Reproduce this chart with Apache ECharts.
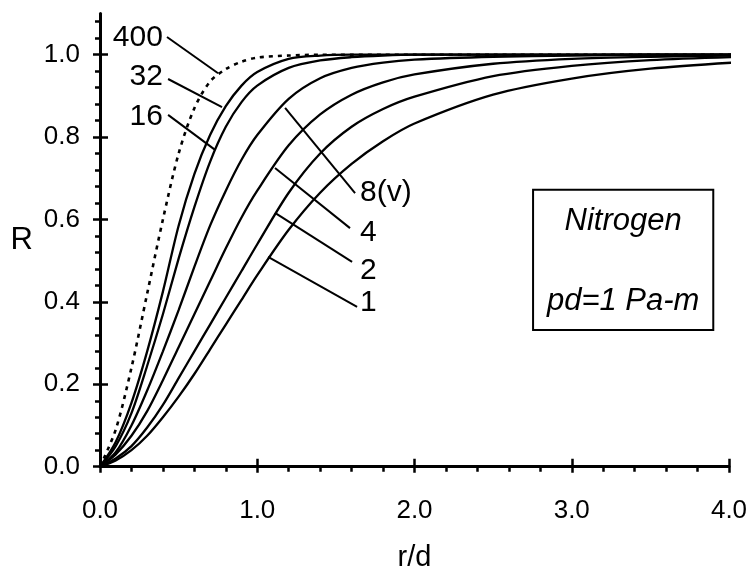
<!DOCTYPE html>
<html lang="en">
<head>
<meta charset="UTF-8">
<title>R vs r/d</title>
<script src="https://cdn.jsdelivr.net/npm/echarts@6/dist/echarts.min.js"></script>
<style>
  html, body { margin: 0; padding: 0; background: #fff; }
  #chart { width: 749px; height: 568px; }
</style>
</head>
<body>
<div id="chart"></div>
<script>
// r/d sample points
var rd = [0, 0.1, 0.2, 0.3, 0.4, 0.5, 0.6, 0.7, 0.8, 0.9, 1.0, 1.2, 1.4, 1.6, 1.8, 2.0, 2.5, 3.0, 3.5, 4.08];

// R
var r400 = [0, 0.09, 0.24, 0.42, 0.60, 0.76, 0.87, 0.935, 0.965, 0.983, 0.993, 0.998, 1.0, 1.0, 1.0, 1.0, 1.0, 1.0, 1.0, 1.0];
var r32 = [0, 0.06, 0.155, 0.28, 0.425, 0.585, 0.71, 0.805, 0.875, 0.925, 0.958, 0.99, 0.998, 1.0, 1.0, 1.0, 1.0, 1.0, 1.0, 1.0];
var r16 = [0, 0.05, 0.13, 0.245, 0.37, 0.505, 0.63, 0.74, 0.825, 0.885, 0.925, 0.968, 0.986, 0.994, 0.998, 1.0, 1.0, 1.0, 1.0, 1.0];
var r8 = [0, 0.035, 0.1, 0.185, 0.28, 0.38, 0.485, 0.585, 0.67, 0.745, 0.805, 0.893, 0.943, 0.968, 0.981, 0.988, 0.995, 0.998, 1.0, 1.0];
var r4 = [0, 0.03, 0.075, 0.135, 0.21, 0.29, 0.37, 0.45, 0.53, 0.605, 0.67, 0.78, 0.855, 0.903, 0.933, 0.952, 0.978, 0.99, 0.995, 0.998];
var r2 = [0, 0.02, 0.05, 0.095, 0.15, 0.215, 0.28, 0.345, 0.41, 0.475, 0.54, 0.665, 0.76, 0.825, 0.868, 0.898, 0.948, 0.973, 0.987, 0.995];
var r1 = [0, 0.015, 0.04, 0.075, 0.12, 0.17, 0.225, 0.285, 0.345, 0.405, 0.465, 0.575, 0.665, 0.735, 0.79, 0.833, 0.903, 0.942, 0.966, 0.982];

var curveNames = ['400', '32', '16', '8(v)', '4', '2', '1'];
var curveValues = [r400, r32, r16, r8, r4, r2, r1];

// ticks
var yMajor = [0, 0.2, 0.4, 0.6, 0.8, 1.0];
var yMinor = [0.04, 0.08, 0.12, 0.16, 0.24, 0.28, 0.32, 0.36, 0.44, 0.48, 0.52, 0.56,
  0.64, 0.68, 0.72, 0.76, 0.84, 0.88, 0.92, 0.96, 1.04, 1.08];

// leader lines: [label, from, to, label anchor, align]  (data coords)
var notes = [
  ['400', [0.426, 1.043], [0.751, 0.955], [0.40, 1.042], 'right'],
  ['32', [0.433, 0.941], [0.776, 0.873], [0.40, 0.946], 'right'],
  ['16', [0.433, 0.854], [0.732, 0.769], [0.40, 0.849], 'right'],
  ['8(v)', [1.177, 0.871], [1.622, 0.664], [1.654, 0.664], 'left'],
  ['4', [1.113, 0.725], [1.59, 0.579], [1.654, 0.567], 'left'],
  ['2', [1.113, 0.616], [1.603, 0.497], [1.654, 0.475], 'left'],
  ['1', [1.069, 0.509], [1.635, 0.388], [1.654, 0.397], 'left']
];

var font = 'Liberation Sans, Arial, sans-serif';
var chart = echarts.init(document.getElementById('chart'));

function fmt(v) { return v.toFixed(1); }

var series = curveNames.map(function (name, i) {
  return {
    name: name,
    type: 'line',
    data: rd.map(function (x, j) { return [x, curveValues[i][j]]; }),
    showSymbol: false,
    smooth: 0.3,
    clip: false,
    lineStyle: {
      color: '#000',
      width: i === 0 ? 2.6 : 2.3,
      type: i === 0 ? [4, 5] : 'solid'
    }
  };
});

var option = {
  animation: false,
  backgroundColor: '#fff',
  grid: { left: 100, right: 20, top: 13.5, bottom: 101.3, outerBoundsMode: 'none', containLabel: false },
  xAxis: [
    {
      type: 'value', min: 0, max: 4, interval: 1,
      name: 'r/d', nameLocation: 'middle', nameGap: 77,
      nameTextStyle: { fontFamily: font, fontSize: 29, color: '#000' },
      axisLine: { lineStyle: { color: '#000', width: 3 } },
      axisTick: { length: 6, lineStyle: { color: '#000', width: 2.5 } },
      minorTick: { show: true, splitNumber: 5, length: 5, lineStyle: { color: '#000', width: 2.5 } },
      axisLabel: { formatter: fmt, margin: 31, fontFamily: font, fontSize: 26, color: '#000' },
      splitLine: { show: false }
    },
    {
      type: 'value', min: 0, max: 4, interval: 1, position: 'bottom',
      axisLine: { show: false },
      axisTick: { inside: true, length: 8, lineStyle: { color: '#000', width: 2.5 } },
      axisLabel: { show: false },
      splitLine: { show: false }
    }
  ],
  yAxis: [
    {
      type: 'value', min: 0, max: 1.1,
      name: 'R', nameLocation: 'middle', nameRotate: 0, nameGap: 67,
      nameTextStyle: { fontFamily: font, fontSize: 31, color: '#000' },
      axisLine: { lineStyle: { color: '#000', width: 3 } },
      axisTick: { customValues: yMajor, length: 7, lineStyle: { color: '#000', width: 2.5 } },
      axisLabel: { customValues: yMajor, formatter: fmt, margin: 20, fontFamily: font, fontSize: 26, color: '#000' },
      splitLine: { show: false }
    },
    {
      type: 'value', min: 0, max: 1.1, position: 'left',
      axisLine: { show: false },
      axisTick: { customValues: yMinor, length: 5, lineStyle: { color: '#000', width: 2.5 } },
      axisLabel: { show: false },
      splitLine: { show: false }
    },
    {
      type: 'value', min: 0, max: 1.1, position: 'left',
      axisLine: { show: false },
      axisTick: { customValues: yMajor, inside: true, length: 8, lineStyle: { color: '#000', width: 2.5 } },
      axisLabel: { show: false },
      splitLine: { show: false }
    }
  ],
  series: series
};
chart.setOption(option);

// annotations placed through the grid's own scale
function px(p) { return chart.convertToPixel({ gridIndex: 0 }, p); }

var graphics = [];
notes.forEach(function (n) {
  var a = px(n[1]), b = px(n[2]), t = px(n[3]);
  graphics.push({
    type: 'line', z: 10,
    shape: { x1: a[0], y1: a[1], x2: b[0], y2: b[1] },
    style: { stroke: '#000', lineWidth: 2 }
  });
  graphics.push({
    type: 'text', z: 10, x: t[0], y: t[1],
    style: { text: n[0], fill: '#000', font: '30px ' + font, textAlign: n[4], textVerticalAlign: 'middle' }
  });
});

var boxA = px([2.754, 0.672]), boxB = px([3.90, 0.332]);
graphics.push({
  type: 'rect', z: 10,
  shape: { x: boxA[0], y: boxA[1], width: boxB[0] - boxA[0], height: boxB[1] - boxA[1] },
  style: { fill: '#fff', stroke: '#000', lineWidth: 2 }
});
var cx = (boxA[0] + boxB[0]) / 2;
graphics.push({
  type: 'text', z: 11, x: cx, y: boxA[1] + 32,
  style: { text: 'Nitrogen', fill: '#000', font: 'italic 31px ' + font, textAlign: 'center', textVerticalAlign: 'middle' }
});
graphics.push({
  type: 'text', z: 11, x: cx, y: boxA[1] + 112,
  style: { text: 'pd=1 Pa-m', fill: '#000', font: 'italic 31px ' + font, textAlign: 'center', textVerticalAlign: 'middle' }
});

chart.setOption({ graphic: graphics });
</script>
</body>
</html>
